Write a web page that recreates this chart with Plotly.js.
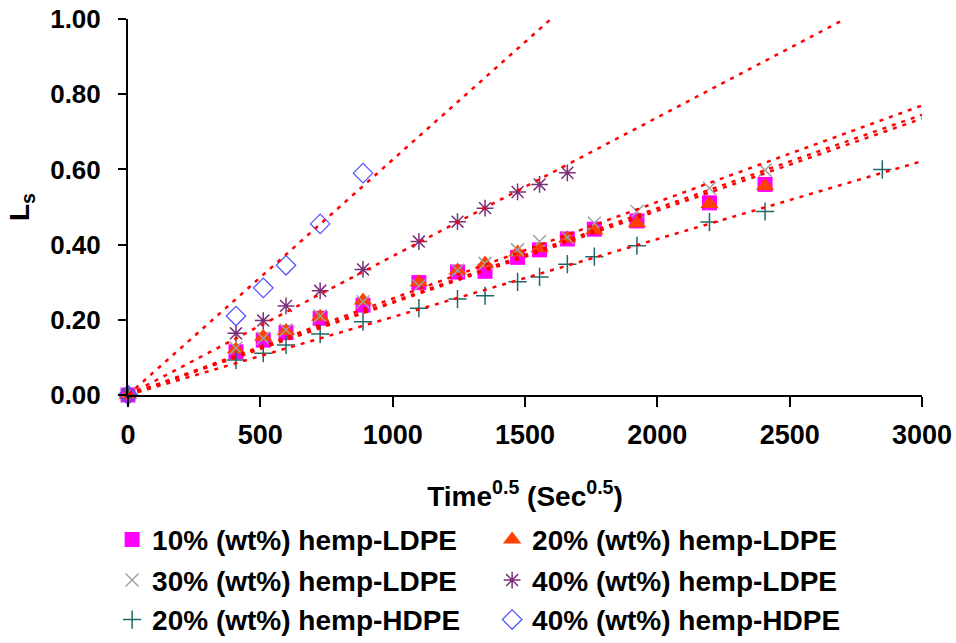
<!DOCTYPE html>
<html>
<head>
<meta charset="utf-8">
<script src="https://cdn.plot.ly/plotly-3.0.1.min.js"></script>
<style>html,body{margin:0;padding:0;background:#fff;}#chart{width:956px;height:643px;}</style>
</head>
<body>
<div id="chart"></div>
<script>
// ---- data ----
const xLDPE = [0, 408, 511, 597, 726, 888, 1099, 1245, 1349, 1472, 1555, 1660, 1762, 1923, 2197, 2407];
const y10LDPE = [0, 0.115, 0.146, 0.166, 0.204, 0.239, 0.299, 0.327, 0.329, 0.366, 0.386, 0.415, 0.441, 0.463, 0.511, 0.560];
const y20LDPE = [0, 0.121, 0.155, 0.170, 0.208, 0.251, 0.300, 0.331, 0.350, 0.379, 0.390, 0.416, 0.438, 0.457, 0.508, 0.556];
const y30LDPE = [0, 0.125, 0.151, 0.173, 0.210, 0.248, 0.290, 0.331, 0.350, 0.386, 0.408, 0.419, 0.457, 0.488, 0.550, 0.598];
const x40LDPE = [0, 408, 511, 597, 726, 888, 1099, 1245, 1349, 1472, 1555, 1660];
const y40LDPE = [0, 0.164, 0.198, 0.237, 0.277, 0.334, 0.408, 0.461, 0.497, 0.540, 0.560, 0.591];
const x20HDPE = [0, 408, 511, 597, 726, 888, 1099, 1245, 1349, 1472, 1555, 1660, 1762, 1923, 2197, 2407, 2850];
const y20HDPE = [0, 0.093, 0.111, 0.133, 0.162, 0.195, 0.231, 0.255, 0.264, 0.301, 0.314, 0.348, 0.368, 0.397, 0.460, 0.488, 0.600];
const x40HDPE = [0, 408, 511, 597, 726, 888];
const y40HDPE = [0, 0.210, 0.285, 0.345, 0.455, 0.590];

// trend line end points (start, end)
const trend10LDPE_x = [0, 3000], trend10LDPE_y = [0, 0.735];
const trend20LDPE_x = [0, 3000], trend20LDPE_y = [0, 0.745];
const trend30LDPE_x = [0, 3000], trend30LDPE_y = [0, 0.770];
const trend40LDPE_x = [0, 2709], trend40LDPE_y = [0, 1.0];
const trend20HDPE_x = [0, 3000], trend20HDPE_y = [0, 0.622];
const trend40HDPE_x = [0, 1598], trend40HDPE_y = [0, 1.0];

const seriesNames = ['10% (wt%) hemp-LDPE', '20% (wt%) hemp-LDPE', '30% (wt%) hemp-LDPE',
                     '40% (wt%) hemp-LDPE', '20% (wt%) hemp-HDPE', '40% (wt%) hemp-HDPE'];
const yTickVals = [0, 0.2, 0.4, 0.6, 0.8, 1.0];
const xTickVals = [0, 500, 1000, 1500, 2000, 2500, 3000];

const FONT = 'Liberation Sans, Arial, sans-serif';

function pts(x, y, name, marker, legend) {
  return {x: x, y: y, name: name, type: 'scatter', mode: 'markers', marker: marker,
          legend: legend, cliponaxis: false, hoverinfo: 'x+y'};
}
function trend(x, y) {
  return {x: x, y: y, type: 'scatter', mode: 'lines', showlegend: false,
          line: {color: '#ff0000', width: 2.5, dash: '4px,6px'}, hoverinfo: 'skip'};
}

const traces = [
  pts(xLDPE, y10LDPE, seriesNames[0], {symbol: 'square', size: 15, color: '#ff00ff'}, 'legend'),
  pts(xLDPE, y20LDPE, seriesNames[1], {symbol: 'triangle-up', size: 16, color: '#ff4000'}, 'legend'),
  pts(xLDPE, y30LDPE, seriesNames[2], {symbol: 'x-thin-open', size: 13, color: '#a0a0a0', line: {width: 1.5, color: '#a0a0a0'}}, 'legend2'),
  pts(x40LDPE, y40LDPE, seriesNames[3], {symbol: 'asterisk-open', size: 14, color: '#7a3079', line: {width: 1.5, color: '#7a3079'}}, 'legend2'),
  pts(x20HDPE, y20HDPE, seriesNames[4], {symbol: 'cross-thin-open', size: 13, color: '#206868', line: {width: 1.5, color: '#206868'}}, 'legend3'),
  pts(x40HDPE, y40HDPE, seriesNames[5], {symbol: 'diamond-open', size: 15, color: '#5050ff', line: {width: 1.2, color: '#5050ff'}}, 'legend3'),
  trend(trend10LDPE_x, trend10LDPE_y),
  trend(trend20LDPE_x, trend20LDPE_y),
  trend(trend30LDPE_x, trend30LDPE_y),
  trend(trend40LDPE_x, trend40LDPE_y),
  trend(trend20HDPE_x, trend20HDPE_y),
  trend(trend40HDPE_x, trend40HDPE_y)
];

const legendBase = {orientation: 'h', x: -0.02, xanchor: 'left', yanchor: 'middle',
  font: {family: FONT, size: 28, color: '#000', weight: 'bold'}, entrywidth: 335,
  bgcolor: 'rgba(0,0,0,0)', borderwidth: 0, itemclick: false, itemdoubleclick: false};

const layout = {
  width: 956, height: 643,
  margin: {l: 128, r: 34, t: 19, b: 248, autoexpand: false},
  paper_bgcolor: '#fff', plot_bgcolor: '#fff',
  font: {family: FONT, size: 26, color: '#000', weight: 'bold'},
  showlegend: true,
  legend: Object.assign({}, legendBase, {y: -0.385}),
  legend2: Object.assign({}, legendBase, {y: -0.493}),
  legend3: Object.assign({}, legendBase, {y: -0.598}),
  xaxis: {
    range: [0, 3000], tickvals: xTickVals, ticktext: xTickVals.map(String),
    ticks: 'outside', ticklen: 10, tickwidth: 2, tickcolor: '#000',
    showline: true, linewidth: 2, linecolor: '#000', showgrid: false, zeroline: false,
    tickfont: {family: FONT, size: 27, color: '#000', weight: 'bold'},
    ticklabelstandoff: 5,
    title: {text: 'Time<sup>0.5</sup> (Sec<sup>0.5</sup>)', font: {family: FONT, size: 28, color: '#000', weight: 'bold'}, standoff: 37}
  },
  yaxis: {
    range: [0, 1], tickvals: yTickVals, ticktext: yTickVals.map(v => v.toFixed(2)),
    ticks: 'outside', ticklen: 8, tickwidth: 2, tickcolor: '#000',
    showline: true, linewidth: 2, linecolor: '#000', showgrid: false, zeroline: false,
    tickfont: {family: FONT, size: 26, color: '#000', weight: 'bold'},
    ticklabelstandoff: 12,
    title: {text: 'L<sub>s</sub>', font: {family: FONT, size: 28, color: '#000', weight: 'bold'}, standoff: 12}
  }
};

Plotly.newPlot('chart', traces, layout, {displayModeBar: false, staticPlot: true});
</script>
</body>
</html>
